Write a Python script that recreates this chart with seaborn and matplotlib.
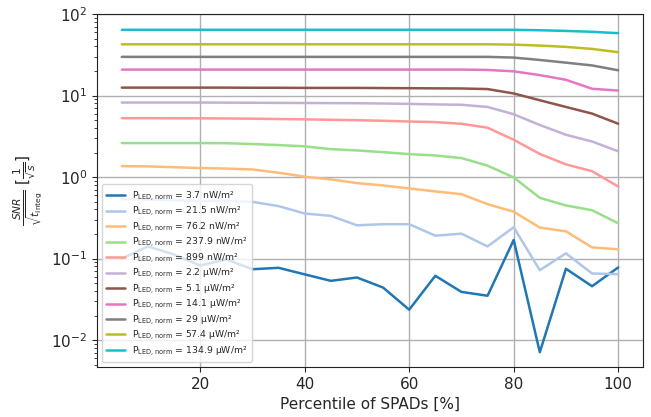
import matplotlib
matplotlib.use("Agg")
import matplotlib.pyplot as plt
import numpy as np
import pandas as pd
import seaborn as sns

percentile = [5, 10, 15, 20, 25, 30, 35, 40, 45, 50, 55, 60, 65, 70, 75, 80, 85, 90, 95, 100]

power_labels = ["3.7 nW/m²", "21.5 nW/m²", "76.2 nW/m²", "237.9 nW/m²", "899 nW/m²",
                "2.2 µW/m²", "5.1 µW/m²", "14.1 µW/m²", "29 µW/m²", "57.4 µW/m²", "134.9 µW/m²"]

snr_3_7nW = [0.100, 0.141, 0.112, 0.082, 0.098, 0.074, 0.077, 0.064, 0.0533, 0.0586,
             0.0441, 0.0236, 0.0615, 0.039, 0.0350, 0.169, 0.0071, 0.075, 0.0458, 0.0778]
snr_21_5nW = [0.536, 0.53, 0.52, 0.51, 0.51, 0.497, 0.44, 0.357, 0.334, 0.256,
              0.264, 0.264, 0.191, 0.202, 0.141, 0.242, 0.072, 0.116, 0.0656, 0.0644]
snr_76_2nW = [1.36, 1.35, 1.32, 1.29, 1.27, 1.24, 1.13, 1.01, 0.936, 0.843,
              0.789, 0.725, 0.666, 0.617, 0.465, 0.376, 0.24, 0.216, 0.137, 0.130]
snr_237_9nW = [2.61, 2.61, 2.61, 2.61, 2.60, 2.54, 2.47, 2.38, 2.2, 2.12,
               2.02, 1.91, 1.84, 1.71, 1.38, 0.99, 0.556, 0.448, 0.392, 0.271]
snr_899nW = [5.27, 5.27, 5.26, 5.25, 5.23, 5.2, 5.15, 5.1, 5.04, 4.98,
             4.9, 4.8, 4.72, 4.5, 4.03, 2.87, 1.92, 1.43, 1.18, 0.765]
snr_2_2uW = [8.2, 8.2, 8.2, 8.2, 8.18, 8.15, 8.12, 8.1, 8.07, 8.05,
             7.98, 7.9, 7.78, 7.7, 7.24, 5.89, 4.35, 3.30, 2.73, 2.07]
snr_5_1uW = [12.5, 12.5, 12.5, 12.5, 12.5, 12.45, 12.45, 12.4, 12.4, 12.4,
             12.35, 12.3, 12.25, 12.2, 12.0, 10.6, 8.75, 7.24, 6.0, 4.51]
snr_14_1uW = [20.8, 20.8, 20.8, 20.8, 20.8, 20.8, 20.8, 20.8, 20.8, 20.8,
              20.8, 20.8, 20.8, 20.8, 20.6, 19.8, 17.8, 15.6, 12.1, 11.5]
snr_29uW = [29.8, 29.8, 29.8, 29.8, 29.8, 29.8, 29.8, 29.8, 29.8, 29.8,
            29.8, 29.8, 29.8, 29.8, 29.8, 29.2, 27.3, 25.3, 23.4, 20.4]
snr_57_4uW = [42.5, 42.5, 42.5, 42.5, 42.5, 42.5, 42.5, 42.5, 42.5, 42.5,
              42.5, 42.5, 42.5, 42.5, 42.5, 42.1, 41.0, 39.5, 37.3, 34.0]
snr_134_9uW = [64.0, 64.0, 64.0, 64.0, 64.0, 64.0, 64.0, 64.0, 64.0, 64.0,
               64.0, 64.0, 64.0, 64.0, 64.0, 64.0, 63.2, 62.0, 60.5, 58.2]

series = [snr_3_7nW, snr_21_5nW, snr_76_2nW, snr_237_9nW, snr_899nW, snr_2_2uW,
          snr_5_1uW, snr_14_1uW, snr_29uW, snr_57_4uW, snr_134_9uW]

colors = ["#1f77b4", "#aec7e8", "#ffbb78", "#98df8a", "#ff9896", "#c5b0d5",
          "#8c564b", "#e377c2", "#7f7f7f", "#bcbd22", "#17becf"]

labels = [r"P$_{\mathregular{LED,\,norm}}$ = " + p for p in power_labels]

rows = []
for lab, vals in zip(labels, series):
    for p, v in zip(percentile, vals):
        rows.append({"percentile": p, "snr": v, "label": lab})
df = pd.DataFrame(rows)

sns.set_style("ticks")
plt.rcParams["font.family"] = ["DejaVu Sans"]
plt.rcParams["mathtext.fontset"] = "dejavusans"

fig = plt.figure(figsize=(6.51, 4.17), dpi=100)
ax = fig.add_axes([97 / 651, 1 - 367 / 417, (643 - 97) / 651, (367 - 14) / 417])

sns.lineplot(data=df, x="percentile", y="snr", hue="label", hue_order=labels,
             palette=colors, linewidth=1.8, ax=ax)

ax.set_yscale("log")
ax.set_xlim(0.25, 104.75)
ax.set_ylim(10 ** -2.33, 10 ** 2.0)
ax.set_xticks([20, 40, 60, 80, 100])
ax.grid(True, which="major", color="#b0b0b0", linewidth=1.0)
ax.tick_params(axis="both", labelsize=11)
ax.set_xlabel("Percentile of SPADs [%]", fontsize=11)
ax.set_ylabel(r"$\frac{SNR}{\sqrt{t_{\mathrm{integ}}}}$ $[\frac{1}{\sqrt{s}}]$", fontsize=11)
for s in ax.spines.values():
    s.set_color("#222222")

leg = ax.legend(loc="lower left", fontsize=6.7, framealpha=0.8, labelspacing=0.18,
                handlelength=2.0, borderpad=0.5)

fig.savefig("out.png", dpi=100)
